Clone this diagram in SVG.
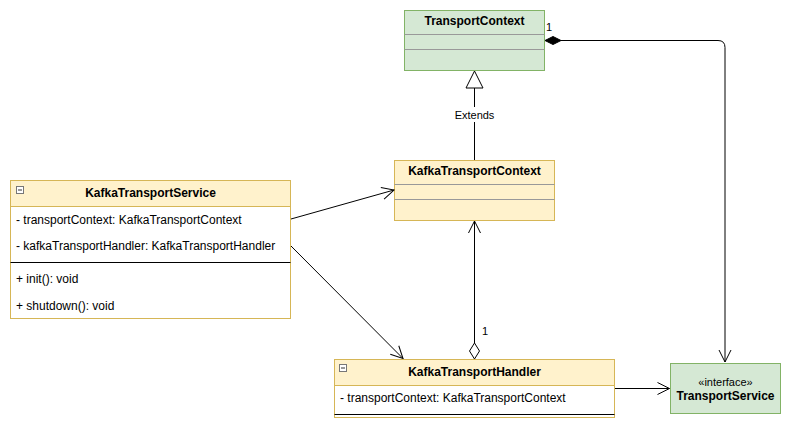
<svg xmlns="http://www.w3.org/2000/svg" width="791" height="430" viewBox="0 0 791 430">
<defs>
<style>
text{font-family:"Liberation Sans",Arial,Helvetica,sans-serif;font-size:12px;fill:#000}
.b{font-weight:bold}
.c{text-anchor:middle}
.y{fill:#fff2cc;stroke:#d6b656;stroke-width:1}
.g{fill:#d5e8d4;stroke:#82b366;stroke-width:1}
.w{fill:#ffffff;stroke:#d6b656;stroke-width:1}
.dv{stroke:#999999;stroke-width:1;fill:none}
.bk{stroke:#000;stroke-width:1;fill:none}
.ln{stroke:#000;stroke-width:1;fill:none}
.ic{fill:#ffffff;stroke:#777;stroke-width:1}
</style>
<marker id="open" markerUnits="userSpaceOnUse" viewBox="0 0 14 14" markerWidth="14" markerHeight="14" refX="13" refY="7" orient="auto">
<path d="M1,1 L13,7 L1,13" fill="none" stroke="#000" stroke-width="1"/>
</marker>
</defs>

<g id="TransportContext">
<rect class="g" x="404.5" y="10.5" width="140" height="60"/>
<line class="dv" x1="404.5" y1="34.5" x2="544.5" y2="34.5"/>
<line class="dv" x1="404.5" y1="49.5" x2="544.5" y2="49.5"/>
<text class="b c" x="474.5" y="25">TransportContext</text>
</g>

<g id="KafkaTransportContext">
<rect class="y" x="394.5" y="160.5" width="160" height="60"/>
<line class="dv" x1="394.5" y1="184.5" x2="554.5" y2="184.5"/>
<line class="dv" x1="394.5" y1="199.5" x2="554.5" y2="199.5"/>
<text class="b c" x="474.5" y="175">KafkaTransportContext</text>
</g>

<g id="KafkaTransportService">
<rect class="w" x="10.5" y="180.5" width="280" height="138"/>
<rect class="y" x="10.5" y="180.5" width="280" height="26"/>
<rect class="ic" x="16.5" y="186.5" width="7" height="7"/>
<line x1="18" y1="190" x2="22" y2="190" stroke="#333" stroke-width="1"/>
<text class="b c" x="150.5" y="197">KafkaTransportService</text>
<text x="16" y="224">- transportContext: KafkaTransportContext</text>
<text x="16" y="250">- kafkaTransportHandler: KafkaTransportHandler</text>
<line class="bk" x1="10.5" y1="262.5" x2="290.5" y2="262.5"/>
<text x="16" y="283">+ init(): void</text>
<text x="16" y="310">+ shutdown(): void</text>
</g>

<g id="KafkaTransportHandler">
<rect class="w" x="334.5" y="359.5" width="280" height="58"/>
<rect class="y" x="334.5" y="359.5" width="280" height="26"/>
<rect class="ic" x="339.5" y="364.5" width="7" height="7"/>
<line x1="341" y1="368" x2="345" y2="368" stroke="#333" stroke-width="1"/>
<text class="b c" x="474.5" y="376">KafkaTransportHandler</text>
<text x="340" y="402">- transportContext: KafkaTransportContext</text>
<line class="bk" x1="334.5" y1="414.5" x2="614.5" y2="414.5"/>
</g>

<g id="TransportService">
<rect class="g" x="670.5" y="363.5" width="110" height="50"/>
<text class="c" x="725.5" y="386" style="font-size:11px">«interface»</text>
<text class="b c" x="725.5" y="400">TransportService</text>
</g>

<g id="connectors">
<!-- Extends -->
<line class="ln" x1="474.5" y1="160" x2="474.5" y2="88"/>
<polygon points="474.5,71 466,88 483,88" fill="#fff" stroke="#000" stroke-width="1"/>
<rect x="452" y="107" width="45" height="15" fill="#fff"/>
<text class="c" x="474.5" y="119" style="font-size:11px">Extends</text>
<!-- composition -->
<path class="ln" d="M561,40.5 H718 Q725,40.5 725,47.5 V362" marker-end="url(#open)"/>
<polygon points="545,40.5 553,36.5 561,40.5 553,44.5" fill="#000" stroke="#000" stroke-width="1"/>
<text x="546" y="31" style="font-size:11px">1</text>
<!-- service to context -->
<line class="ln" x1="291" y1="219" x2="394" y2="190" marker-end="url(#open)"/>
<!-- service to handler -->
<line class="ln" x1="291" y1="246" x2="403" y2="358.5" marker-end="url(#open)"/>
<!-- aggregation -->
<line class="ln" x1="474.5" y1="343" x2="474.5" y2="221" marker-end="url(#open)"/>
<polygon points="474.5,343 479.5,351 474.5,359 469.5,351" fill="#fff" stroke="#000" stroke-width="1"/>
<text x="482" y="335" style="font-size:11px">1</text>
<!-- handler to transport service -->
<line class="ln" x1="615" y1="388.5" x2="669.5" y2="388.5" marker-end="url(#open)"/>
</g>
</svg>
